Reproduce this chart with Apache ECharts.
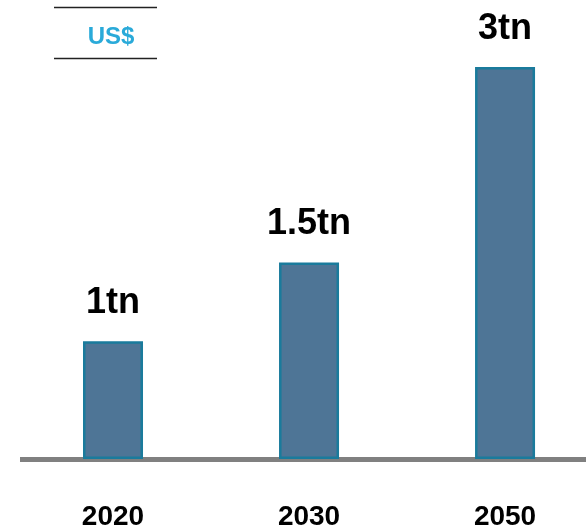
<!DOCTYPE html>
<html>
<head>
<meta charset="utf-8">
<script src="https://cdn.jsdelivr.net/npm/echarts@6/dist/echarts.min.js"></script>
<style>
html,body{margin:0;padding:0;background:#fff;}
#chart{width:586px;height:531px;}
</style>
</head>
<body>
<div id="chart"></div>
<script>
// Categories (years) and values
var categories = ['2020', '2030', '2050'];
var valueLabels = ['1tn', '1.5tn', '3tn'];
// bar heights as drawn in the picture (in units of the 2020 bar)
var barHeights = [1.0, 1.67, 3.33];
var unitLabel = 'US$';

var chart = echarts.init(document.getElementById('chart'));
var font = '"Liberation Sans", Arial, sans-serif';

var seriesData = barHeights.map(function (v, i) { return [i, v]; });

chart.setOption({
  animation: false,
  backgroundColor: '#ffffff',
  title: {
    text: unitLabel,
    left: 106,
    top: 20,
    textAlign: 'center',
    textStyle: { color: '#2aaad9', fontSize: 24, fontWeight: 'bold', fontFamily: font }
  },
  graphic: [
    { type: 'line', shape: { x1: 54, y1: 7.5, x2: 157, y2: 7.5 }, style: { stroke: '#222', lineWidth: 1.5 } },
    { type: 'line', shape: { x1: 54, y1: 58.5, x2: 157, y2: 58.5 }, style: { stroke: '#222', lineWidth: 1.5 } }
  ],
  grid: { left: 20, right: 0, top: 47, bottom: 71 },
  xAxis: {
    type: 'value',
    min: -0.4745,
    max: 2.413,
    splitLine: { show: false },
    axisTick: { show: false },
    axisLine: { show: true, lineStyle: { color: '#808080', width: 5, cap: 'butt' } },
    axisLabel: {
      customValues: [0, 1, 2],
      margin: 44,
      formatter: function (v) { return categories[Math.round(v)] || ''; },
      color: '#000',
      fontSize: 28,
      fontWeight: 'bold',
      fontFamily: font
    }
  },
  yAxis: {
    type: 'value',
    min: 0,
    max: 3.5,
    show: false,
    splitLine: { show: false }
  },
  series: [{
    type: 'bar',
    data: seriesData,
    barWidth: 60,
    itemStyle: { color: '#4e7596', borderColor: '#1a7b9c', borderWidth: 2.5 },
    label: {
      show: true,
      position: 'top',
      distance: 20,
      formatter: function (p) { return valueLabels[p.dataIndex]; },
      color: '#000',
      fontSize: 36,
      fontWeight: 'bold',
      fontFamily: font
    }
  }]
});
</script>
</body>
</html>
